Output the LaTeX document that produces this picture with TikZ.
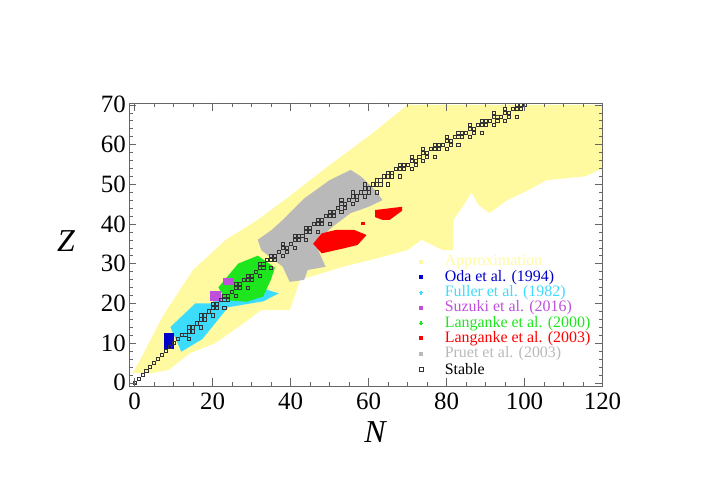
\documentclass[tikz,border=0pt]{standalone}
\usepackage{fontspec}
\setmainfont{Liberation Serif}
\definecolor{approx}{RGB}{255,250,160}
\definecolor{oda}{RGB}{0,0,200}
\definecolor{fuller}{RGB}{60,220,255}
\definecolor{suzuki}{RGB}{190,80,220}
\definecolor{lang}{RGB}{30,230,30}
\definecolor{langb}{RGB}{255,0,0}
\definecolor{pruet}{RGB}{185,185,185}
\tikzset{
  stable/.style={draw=black!80,line width=0.35pt},
  legtext/.style={anchor=west,inner sep=0pt,font=\fontsize{16}{16}\selectfont},
  ticklab/.style={inner sep=0pt,font=\fontsize{25}{25}\selectfont}
}
\begin{document}
\begin{tikzpicture}[x=1bp,y=-1bp]
\useasboundingbox (0,0) rectangle (702,496);
\begin{scope}[shift={(134.5,382.7)},x=3.9bp,y=3.97bp]
% approximation region
\fill[approx] (-0.5,2.4) -- (1.4,5.7) -- (7.4,17) -- (15,28.4) -- (23.4,36) -- (31.6,41) -- (40.7,47.7) -- (50,54.8) -- (61,62.8) -- (70,70) -- (120,70) -- (120,54) -- (115.7,52) -- (105.6,51) -- (101,48.5) -- (95.6,46) -- (91,42.7) -- (88,45) -- (86.4,48) -- (84.6,45) -- (81.8,41) -- (81.6,33.4) -- (79,33.4) -- (73.6,36) -- (70,33.4) -- (63.6,31.7) -- (53.5,29.2) -- (42.5,25.9) -- (39.8,18.3) -- (32.5,18.3) -- (28,15) -- (20.6,9.9) -- (14.2,7.4) -- (8.7,3.2) -- (4.2,2.4) -- cycle;
% Pruet et al.
\fill[pruet] (31.6,36) -- (35.2,38.5) -- (38,41) -- (43.5,46.4) -- (50,51) -- (55.4,53.6) -- (58,52) -- (61.7,48.5) -- (63.6,46) -- (60,44.3) -- (55.4,42.7) -- (50.8,39.3) -- (48,36.8) -- (47.1,33.4) -- (49,29.2) -- (44.4,28.4) -- (43.5,25.9) -- (39.8,25.4) -- (38,29.2) -- (32.5,33.4) -- cycle;
% Fuller et al.
\fill[fuller] (9.2,14) -- (15.6,20) -- (19.7,20) -- (22,22) -- (26,25.5) -- (32,24) -- (37,22.5) -- (33,20.5) -- (24,19) -- (17.4,11) -- (12,7.8) -- cycle;
% Langanke et al. (2000)
\fill[lang] (21.5,24) -- (26.6,30) -- (31.6,32) -- (36,29) -- (35,26) -- (33,21.7) -- (28.8,20.4) -- (23.4,20.8) -- cycle;
% Suzuki et al.
\fill[suzuki] (19.3,20.6) rectangle (22.3,23);
\fill[suzuki] (22.8,24.6) rectangle (25.6,26.4);
% Oda et al.
\fill[oda] (7.5,8.5) rectangle (10,12.5);
% Langanke et al. (2003)
\fill[langb] (45.8,35) -- (48,37.6) -- (51.7,38.5) -- (56.3,38.5) -- (59.5,37.2) -- (57.2,34.7) -- (53.5,33.8) -- (48,32.6) -- cycle;
\fill[langb] (61.7,41.7) -- (61.7,43.5) -- (68.6,44.3) -- (68.6,43.3) -- (65.4,41) -- (63.6,41) -- cycle;
\fill[langb] (58.1,39.6) rectangle (59,40.5);
% stable nuclei
\foreach \n in {0,...,100}{
  \pgfmathtruncatemacro\zc{round(\n-0.003*\n*\n)}
  \foreach \d in {-2,-1,0,1}{
    \pgfmathtruncatemacro\ok{(\d==0)||(\n>12 && mod(\n*7+\d*5+20,3)==0)}
    \ifnum\ok=1
      \draw[stable] (\n-0.4,\zc+\d-0.4) rectangle (\n+0.4,\zc+\d+0.4);
    \fi
  }
}
% frame and ticks
\draw[black!60,line width=0.5pt] (-1.3,-0.9) rectangle (120,70.5);
\foreach \t in {0,5,...,120}{
  \draw[black!60] (\t,-0.9) -- (\t,0.1);
  \draw[black!60] (\t,70.5) -- (\t,69.5);
}
\foreach \t in {0,20,...,120}{
  \draw[black!60] (\t,-0.9) -- (\t,1.1);
  \draw[black!60] (\t,70.5) -- (\t,68.5);
  \node[ticklab,anchor=north] (nt\t) at (\t,-2.6) {\t};
}
\foreach \t in {0,2,...,70}{
  \draw[black!60] (-1.3,\t) -- (-0.5,\t);
  \draw[black!60] (120,\t) -- (119.2,\t);
}
\foreach \t in {0,10,...,70}{
  \draw[black!60] (-1.3,\t) -- (0.5,\t);
  \draw[black!60] (120,\t) -- (118.2,\t);
  \node[ticklab,anchor=east] (zt\t) at (-2.2,\t) {\t};
}
\end{scope}
% axis labels
\node[inner sep=0pt,font=\fontsize{32}{32}\selectfont\itshape] (xlab) at (375,432) {N};
\node[inner sep=0pt,font=\fontsize{32}{32}\selectfont\itshape] (ylab) at (66,241) {Z};
% legend
\fill[approx] (419,260.3) rectangle (423,264.3);
\node[legtext,text=approx] (l1) at (444.6,262.3) {Approximation};
\fill[oda] (419,275.3) rectangle (423,279.3);
\node[legtext,text=oda] (l2) at (444.6,277.3) {Oda et al. (1994)};
\draw[fuller,line width=1.2pt] (419,292.7) -- (423,292.7) (421,290.7) -- (421,294.7);
\node[legtext,text=fuller] (l3) at (444.6,292.7) {Fuller et al. (1982)};
\fill[suzuki] (419,306) rectangle (423,310);
\node[legtext,text=suzuki] (l4) at (444.6,308) {Suzuki et al. (2016)};
\draw[lang,line width=1.2pt] (419,323.3) -- (423,323.3) (421,321.3) -- (421,325.3);
\node[legtext,text=lang] (l5) at (444.6,323.3) {Langanke et al. (2000)};
\fill[langb] (419,336.3) rectangle (423,340.3);
\node[legtext,text=langb] (l6) at (444.6,338.3) {Langanke et al. (2003)};
\fill[pruet] (419,352) rectangle (423,356);
\node[legtext,text=pruet] (l7) at (444.6,354) {Pruet et al. (2003)};
\draw[stable] (419,366.7) rectangle (423,370.7);
\node[legtext] (l8) at (444.6,368.7) {Stable};
\end{tikzpicture}
\end{document}
